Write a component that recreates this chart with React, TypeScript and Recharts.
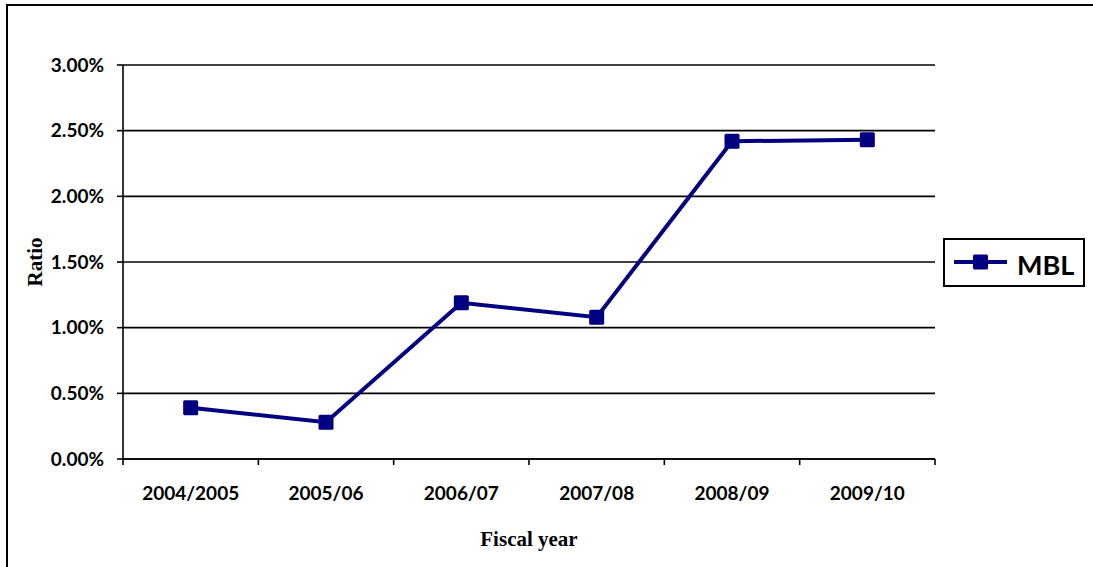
import React from 'react';
import { LineChart, Line, XAxis, YAxis, CartesianGrid } from 'recharts';

const years = ['2004/2005', '2005/06', '2006/07', '2007/08', '2008/09', '2009/10'];
const mblValues = [0.39, 0.28, 1.19, 1.08, 2.42, 2.43];
const yTicks = [0, 0.5, 1, 1.5, 2, 2.5, 3];
const xTicks = [-0.5, 0, 0.5, 1, 1.5, 2, 2.5, 3, 3.5, 4, 4.5, 5, 5.5];

const data = years.map((year, i) => ({ i, year, v: mblValues[i] }));

const NAVY = '#000080';
const SANS = 'Lato, "Open Sans", sans-serif';
const SERIF = '"Liberation Serif", "Times New Roman", serif';

const XTick = (props: any) => {
  const { x, y, payload } = props;
  const v = payload.value;
  if (Number.isInteger(v)) {
    return (
      <text x={x} y={y + 41} textAnchor="middle" fontFamily={SANS} fontWeight={700} fontSize={19} fill="#000">
        {years[v]}
      </text>
    );
  }
  return <line x1={x} x2={x} y1={y} y2={y + 6} stroke="#000" strokeWidth={1.6} />;
};

const SquareDot = (props: any) => {
  const { cx, cy, index } = props;
  if (cx == null || cy == null) return null;
  return <rect key={`d${index}`} x={cx - 7.5} y={cy - 7.5} width={15} height={15} rx={1.5} fill={NAVY} />;
};

export default function App() {
  return (
    <div style={{ position: 'absolute', left: 0, top: 0, width: 1093, height: 567, background: '#fff', overflow: 'hidden' }}>
      <div style={{ position: 'absolute', left: 6, top: 4, width: 2, height: 563, background: '#000' }} />
      <div style={{ position: 'absolute', left: 6, top: 4, width: 1087, height: 2, background: '#000' }} />
      <div style={{ position: 'absolute', left: 0, top: 0 }}>
        <LineChart width={1093} height={567} data={data} margin={{ top: 65, right: 158, bottom: 0, left: 0 }}>
          <CartesianGrid vertical={false} stroke="#000" strokeWidth={1.6} />
          <XAxis
            type="number"
            dataKey="i"
            domain={[-0.5, 5.5]}
            ticks={xTicks}
            interval={0}
            height={108}
            tickLine={false}
            tickSize={0}
            tickMargin={0}
            axisLine={{ stroke: '#000', strokeWidth: 1.6 }}
            tick={<XTick />}
            label={{
              content: (p: any) => {
                const vb = p.viewBox || {};
                return (
                  <text
                    x={vb.x + vb.width / 2}
                    y={vb.y + 87}
                    textAnchor="middle"
                    fontFamily={SERIF}
                    fontWeight={700}
                    fontSize={21}
                    fill="#000"
                  >
                    Fiscal year
                  </text>
                );
              },
            }}
          />
          <YAxis
            type="number"
            domain={[0, 3]}
            ticks={yTicks}
            interval={0}
            width={123}
            tickSize={6}
            tickMargin={13}
            tickLine={{ stroke: '#000', strokeWidth: 1.6 }}
            axisLine={{ stroke: '#000', strokeWidth: 1.6 }}
            tickFormatter={(v: number) => `${v.toFixed(2)}%`}
            tick={{ fontFamily: SANS, fontWeight: 700, fontSize: 19, fill: '#000' }}
            label={{
              content: (p: any) => {
                const vb = p.viewBox || {};
                const cx = vb.x + 35;
                const cy = vb.y + vb.height / 2;
                return (
                  <text
                    x={cx}
                    y={cy}
                    transform={`rotate(-90, ${cx}, ${cy})`}
                    textAnchor="middle"
                    dominantBaseline="central"
                    fontFamily={SERIF}
                    fontWeight={700}
                    fontSize={21}
                    fill="#000"
                  >
                    Ratio
                  </text>
                );
              },
            }}
          />
          <Line
            type="linear"
            dataKey="v"
            name="MBL"
            stroke={NAVY}
            strokeWidth={4}
            dot={<SquareDot />}
            activeDot={false}
            isAnimationActive={false}
          />
        </LineChart>
      </div>
      <div
        style={{
          position: 'absolute',
          left: 943,
          top: 238,
          width: 142,
          height: 49,
          border: '2px solid #000',
          boxSizing: 'border-box',
          background: '#fff',
        }}
      >
        <svg width={138} height={45} style={{ position: 'absolute', left: 0, top: 0 }}>
          <line x1={9} x2={62} y1={22} y2={22} stroke={NAVY} strokeWidth={4} />
          <rect x={28} y={14.5} width={15} height={15} rx={1.5} fill={NAVY} />
          <text x={72} y={35} fontFamily={SANS} fontWeight={700} fontSize={27} fill="#000">
            MBL
          </text>
        </svg>
      </div>
    </div>
  );
}
